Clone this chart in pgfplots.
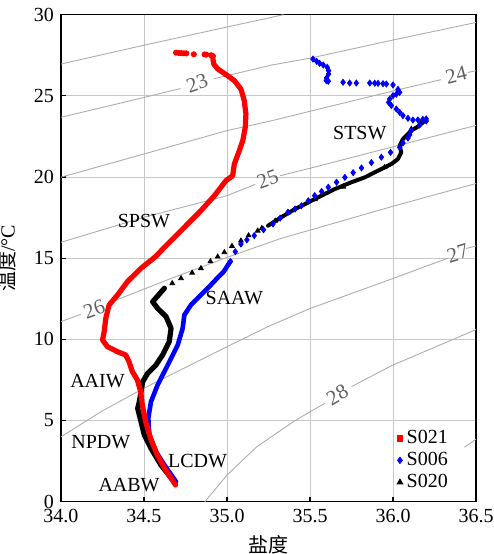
\documentclass[border=0pt]{standalone}
\usepackage{fontspec}
\setmainfont{Liberation Serif}
\newfontfamily\cjk{Noto Sans CJK SC}
\usepackage{pgfplots}
\pgfplotsset{compat=1.18}

\definecolor{isoline}{gray}{0.68}
\definecolor{isolabel}{gray}{0.38}
\definecolor{gridgray}{gray}{0.78}

\begin{document}
\begin{tikzpicture}
\begin{axis}[
  scale only axis,
  width=207.5pt, height=243.5pt,
  xmin=34, xmax=36.5, ymin=0, ymax=30,
  xtick={34,34.5,35,35.5,36,36.5},
  ytick={0,5,10,15,20,25,30},
  grid=major,
  major grid style={gridgray, line width=0.5pt},
  tick align=inside,
  xtick pos=bottom, ytick pos=left,
  major tick length=2.5pt,
  axis line style={line width=0.8pt},
  tick style={black, line width=0.6pt},
  tick label style={font=\fontsize{10}{12}\selectfont},
  xticklabel style={/pgf/number format/.cd, fixed, fixed zerofill, precision=1, assume math mode=true},
  yticklabel style={/pgf/number format/assume math mode=true},
  xlabel={{\cjk 盐度}},
  ylabel={{\cjk 温度}/°C},
  ylabel style={yshift=2pt},
  label style={font=\fontsize{10}{12}\selectfont},
  legend style={at={(rel axis cs:0.95,0.008)}, anchor=south east,
    draw=none, fill=white, font=\fontsize{10}{12}\selectfont,
    row sep=-1.2pt, inner sep=1.5pt, legend cell align=left},
  legend image code/.code={\draw[#1] plot coordinates {(0.12cm,0cm)};},
]
\coordinate (sw) at (rel axis cs:0,0);
\coordinate (ne) at (rel axis cs:1,1);

% isopycnals (sigma-t)
\tikzset{iso/.style={isoline, line width=0.45pt}}
\addplot[iso, forget plot] coordinates {(34.0,26.96) (34.5,28.12) (35.0,29.24) (35.27,29.84) (35.34,30.0)};
\addplot[iso, forget plot] coordinates {(34.0,23.68) (34.5,24.9) (34.72,25.45)};
\addplot[iso, forget plot] coordinates {(34.92,26.05) (35.27,26.9) (35.5,27.32) (36.0,28.44) (36.5,29.52)};
\addplot[iso, forget plot] coordinates {(34.0,19.99) (34.5,21.42) (35.0,22.86) (35.27,23.47) (35.5,24.05) (36.0,25.3) (36.29,26.0)};
\addplot[iso, forget plot] coordinates {(36.45,26.44) (36.5,26.55)};
\addplot[iso, forget plot] coordinates {(34.0,15.98) (34.5,17.52) (35.0,18.85) (35.17,19.55)};
\addplot[iso, forget plot] coordinates {(35.32,20.08) (35.5,20.54) (36.0,21.86) (36.5,23.18)};
\addplot[iso, forget plot] coordinates {(34.0,11.09) (34.12,11.55)};
\addplot[iso, forget plot] coordinates {(34.29,12.25) (34.65,13.7) (35.0,15.05) (35.32,16.2) (36.0,18.2) (36.5,19.6)};
\addplot[iso, forget plot] coordinates {(34.0,4.0) (34.25,5.6) (34.5,6.99) (35.0,9.55) (35.25,10.8) (35.5,11.9) (36.0,13.75) (36.33,15.0)};
\addplot[iso, forget plot] coordinates {(36.44,15.6) (36.5,15.75)};
\addplot[iso, forget plot] coordinates {(34.867,0.0) (35.0,1.64) (35.18,3.39) (35.4,4.93) (35.5,5.54) (35.59,6.06)};
\addplot[iso, forget plot] coordinates {(35.75,7.09) (35.92,8.0) (36.0,8.42) (36.5,10.6)};
\addplot[iso, forget plot] coordinates {(36.43,3.35) (36.5,3.85)};

% isopycnal labels
\tikzset{isolab/.style={text=isolabel, font=\fontsize{10.5}{12}\selectfont, inner sep=0pt}}
\node[isolab, rotate=19] at (axis cs:34.82,25.78) {23};
\node[isolab, rotate=14] at (axis cs:36.38,26.3) {24};
\node[isolab, rotate=20] at (axis cs:35.245,19.85) {25};
\node[isolab, rotate=20] at (axis cs:34.2,11.85) {26};
\node[isolab, rotate=17] at (axis cs:36.39,15.3) {27};
\node[isolab, rotate=30] at (axis cs:35.665,6.58) {28};

\tikzset{band/.style={no marks, line join=round, line cap=round}}

% S020
\tikzset{blk/.style={black, mark=triangle*, mark size=1.35pt, mark options={black}}}
\addplot[black, band, line width=2pt, forget plot] coordinates {
(36.19,23.47) (36.16,23.17) (36.11,22.86) (36.06,22.34) (36.04,21.93) (36.05,21.52)
(36.03,21.11) (35.99,20.80) (35.91,20.39) (35.83,19.98) (35.75,19.68) (35.65,19.26)
(35.59,18.96) (35.49,18.44) (35.41,18.03) (35.327,17.52) (35.247,17.0)};
\addplot[blk, only marks, forget plot] coordinates {
(36.17,23.36) (36.11,22.96) (35.95,20.6) (35.7,19.4) (35.53,18.62) (35.37,17.8)
(35.29,17.3) (35.21,16.85) (35.185,16.69) (35.13,16.4) (35.084,16.08) (35.03,15.75) (34.984,15.36)
(34.944,15.09) (34.9,14.8) (34.843,14.38) (34.79,14.1) (34.723,13.76) (34.67,13.45)};
\addplot[black, band, line width=2.6pt, forget plot] coordinates {
(34.623,13.15) (34.552,12.32) (34.582,11.91) (34.633,11.4) (34.663,10.68) (34.652,9.86)
(34.612,9.04) (34.572,8.42) (34.522,7.91) (34.492,7.39) (34.482,6.78) (34.472,6.16)
(34.462,5.75) (34.482,4.93) (34.502,4.11) (34.542,3.29) (34.602,2.26) (34.673,1.34)};

% S006
\tikzset{blu/.style={blue, mark=diamond*, mark size=1.5pt, mark options={blue}}}
\addplot[blu, only marks, forget plot] coordinates {
(35.518,27.27) (35.54,27.13) (35.558,27.0) (35.58,26.9) (35.604,26.76) (35.612,26.55)
(35.612,26.35) (35.60,26.1) (35.598,25.94) (35.61,25.9)
(35.699,25.84) (35.739,25.79) (35.779,25.79) (35.86,25.79) (35.89,25.78) (35.91,25.77)
(35.94,25.75) (35.96,25.73) (36.0,25.67) (36.03,25.4) (36.04,25.22) (36.02,25.1)
(36.0,25.01) (35.98,24.8) (35.974,24.60) (35.99,24.4) (36.02,24.19) (36.04,23.98)
(36.06,23.78) (36.09,23.62) (36.12,23.51) (36.15,23.52) (36.18,23.55) (36.20,23.58)
(36.20,23.45) (36.16,23.2) (36.11,22.86) (36.10,22.6) (36.09,22.4) (36.06,22.1)
(36.04,21.83) (35.985,21.52) (35.93,21.22) (35.87,20.89) (35.81,20.56) (35.76,20.27)
(35.71,19.98) (35.66,19.68) (35.61,19.37) (35.57,19.11) (35.528,18.85) (35.49,18.54)
(35.448,18.23) (35.41,18.03) (35.367,17.83) (35.32,17.47) (35.277,17.11) (35.22,16.75)
(35.164,16.39) (35.12,16.13) (35.084,15.87) (35.05,15.4) (35.02,14.8)};
\addplot[blue, band, line width=2.3pt, forget plot] coordinates {
(35.02,14.8) (34.98,14.17) (34.93,13.65) (34.884,13.15) (34.83,12.6) (34.783,12.12)
(34.743,11.5) (34.733,10.68) (34.703,9.65) (34.643,8.42) (34.582,7.19) (34.542,6.16)
(34.526,5.14) (34.532,4.11) (34.572,3.08) (34.623,2.26) (34.693,1.23)};

% S021
\tikzset{rd/.style={red, mark=*, mark size=1.3pt, mark options={red}}}
\addplot[rd, only marks, forget plot] coordinates {
(34.693,27.66) (34.71,27.64) (34.725,27.63) (34.74,27.62) (34.755,27.62) (34.80,27.56)
(34.865,27.55) (34.875,27.54) (34.905,27.50) (34.915,27.45)};
\addplot[red, band, line width=2.6pt, forget plot] coordinates {
(34.915,27.3) (34.92,26.96) (34.944,26.66) (35.004,26.24) (35.044,25.94) (35.084,25.42)
(35.104,24.70) (35.114,23.88) (35.11,23.06) (35.095,22.24) (35.074,21.62) (35.044,20.80)
(35.034,20.08) (34.994,19.78) (34.924,18.85) (34.843,17.93) (34.743,16.90) (34.623,15.67)
(34.57,15.1) (34.482,14.38) (34.40,13.55) (34.34,12.73) (34.29,12.12) (34.27,11.3)
(34.26,10.47) (34.25,9.96) (34.28,9.55) (34.34,9.24) (34.39,9.04) (34.41,8.62)
(34.43,8.01) (34.46,7.5) (34.48,6.78) (34.49,5.96) (34.51,4.93) (34.54,3.9)
(34.58,2.88) (34.63,1.95) (34.69,1.03)};

% water mass labels
\tikzset{wm/.style={font=\fontsize{10}{12}\selectfont, inner sep=0pt}}
\node[wm] at (axis cs:34.50,17.31) {SPSW};
\node[wm] at (axis cs:35.80,22.69) {STSW};
\node[wm] at (axis cs:35.044,12.53) {SAAW};
\node[wm] at (axis cs:34.22,7.44) {AAIW};
\node[wm] at (axis cs:34.24,3.70) {NPDW};
\node[wm] at (axis cs:34.823,2.53) {LCDW};
\node[wm] at (axis cs:34.41,1.03) {AABW};

\addlegendimage{only marks, mark=square*, red, mark size=1.3pt}
\addlegendimage{only marks, mark=diamond*, blue, mark size=1.6pt}
\addlegendimage{only marks, mark=triangle*, black, mark size=1.6pt}
\legend{S021, S006, S020}
\end{axis}
\pgfresetboundingbox
\useasboundingbox ([xshift=-30.5pt,yshift=-26.15pt]sw) rectangle ([xshift=9pt,yshift=7.35pt]ne);
\end{tikzpicture}
\end{document}
